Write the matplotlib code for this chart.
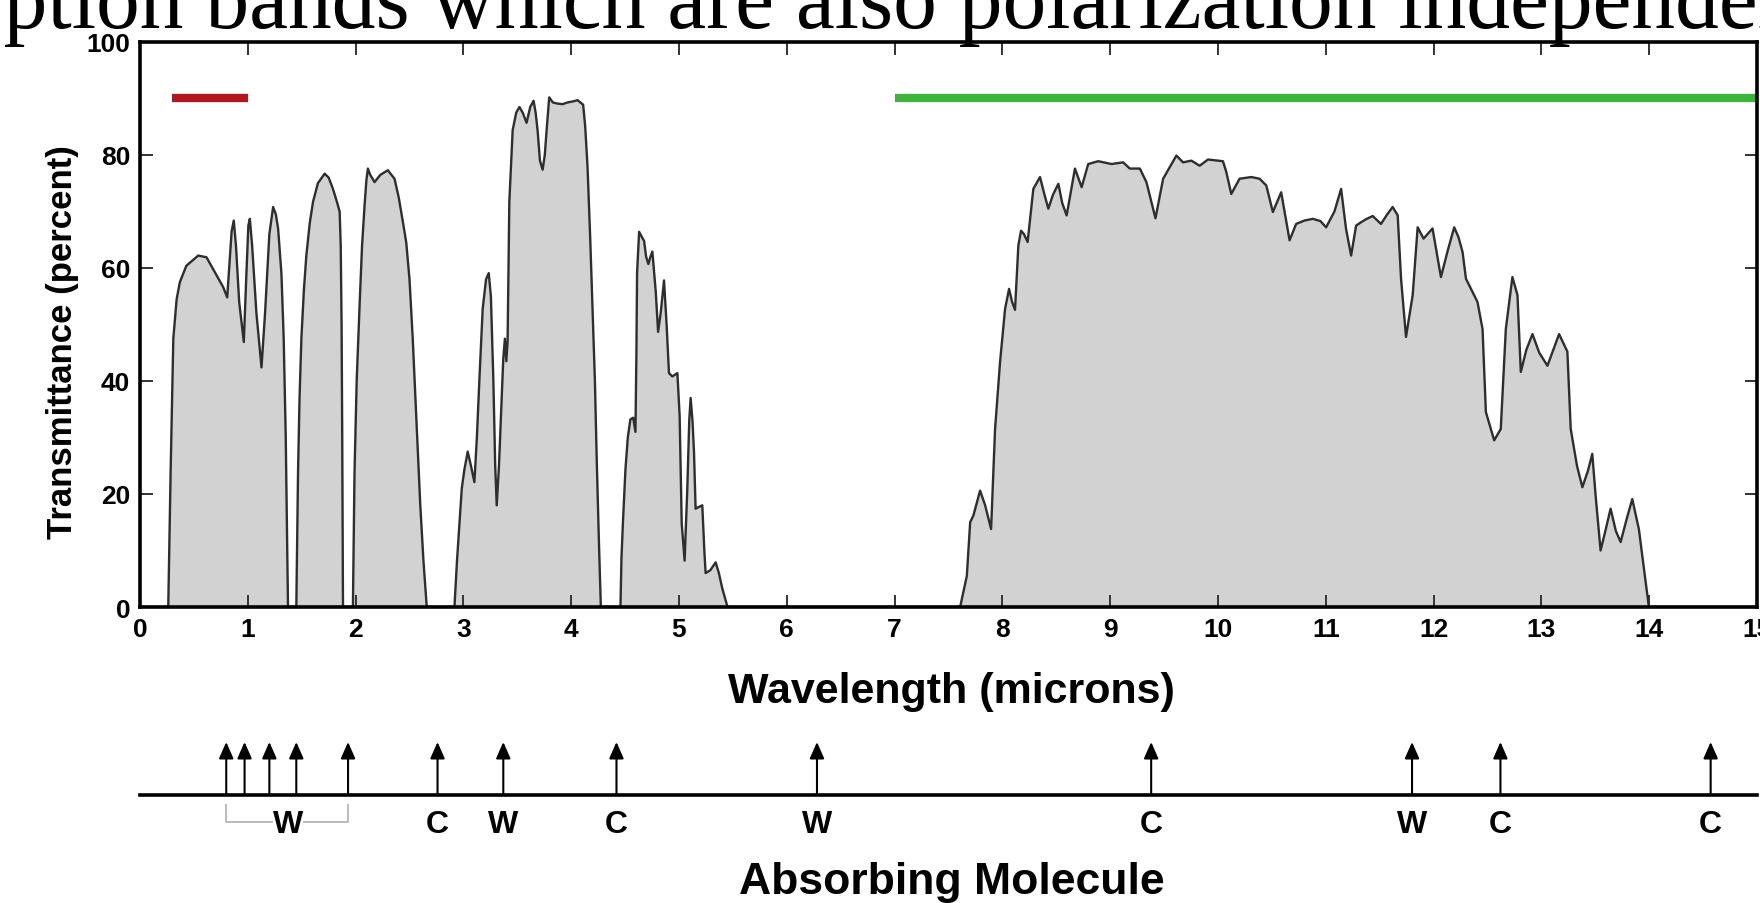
import matplotlib
matplotlib.use('Agg')
import matplotlib.pyplot as plt
import matplotlib.transforms as mtransforms
from matplotlib.lines import Line2D

# transmittance windows (microns, percent)
wavelength = [
    0.0,
    # window 1
    0.262, 0.284, 0.309, 0.34, 0.37, 0.43, 0.54, 0.617, 0.71, 0.772, 0.809, 0.85, 0.870,
    0.89, 0.92, 0.963, 0.985, 1.005, 1.019, 1.04, 1.08, 1.127, 1.16, 1.20, 1.235, 1.26,
    1.281, 1.312, 1.333, 1.352, 1.373,
    # window 2
    1.45, 1.466, 1.48, 1.497, 1.52, 1.543, 1.575, 1.605, 1.65, 1.713, 1.75, 1.79, 1.83,
    1.852, 1.862, 1.870, 1.876, 1.883,
    # window 3
    1.975, 1.99, 2.01, 2.037, 2.06, 2.083, 2.10, 2.114, 2.135, 2.176, 2.23, 2.299, 2.361,
    2.40, 2.44, 2.47, 2.50, 2.53, 2.56, 2.60, 2.63, 2.66,
    # window 4
    2.917, 2.94, 2.963, 2.985, 3.009, 3.040, 3.07, 3.102, 3.125, 3.148, 3.179, 3.21, 3.235,
    3.255, 3.278, 3.295, 3.309, 3.33, 3.349, 3.37, 3.385, 3.398, 3.41, 3.426, 3.457, 3.49,
    3.52, 3.55, 3.586, 3.62, 3.651, 3.67, 3.688, 3.71, 3.735, 3.755, 3.772, 3.796, 3.83,
    3.873, 3.92, 3.966, 4.02, 4.059, 4.111, 4.13, 4.151, 4.175, 4.198, 4.22, 4.235, 4.255,
    4.275,
    # window 5
    4.457, 4.466, 4.48, 4.503, 4.525, 4.549, 4.575, 4.596, 4.605, 4.611, 4.63, 4.655, 4.676,
    4.695, 4.716, 4.735, 4.753, 4.77, 4.784, 4.806, 4.83, 4.861, 4.885, 4.907, 4.938, 4.985,
    5.006, 5.025, 5.052, 5.077, 5.095, 5.108, 5.125, 5.139, 5.154, 5.185, 5.216, 5.235,
    5.247, 5.29, 5.34, 5.37, 5.40, 5.45,
    # window 6
    7.608, 7.67, 7.701, 7.731, 7.793, 7.84, 7.895, 7.932, 7.978, 8.025, 8.062, 8.09, 8.117,
    8.148, 8.173, 8.20, 8.234, 8.287, 8.349, 8.39, 8.426, 8.47, 8.519, 8.555, 8.596, 8.64,
    8.673, 8.735, 8.796, 8.889, 9.012, 9.12, 9.182, 9.275, 9.336, 9.42, 9.491, 9.614, 9.676,
    9.753, 9.83, 9.907, 10.046, 10.077, 10.123, 10.2, 10.309, 10.386, 10.448, 10.509,
    10.586, 10.664, 10.725, 10.802, 10.88, 10.95, 11.003, 11.08, 11.142, 11.188, 11.235,
    11.281, 11.327, 11.38, 11.435, 11.512, 11.57, 11.62, 11.667, 11.698, 11.744, 11.806,
    11.852, 11.907, 11.99, 12.068, 12.13, 12.191, 12.23, 12.269, 12.3, 12.407, 12.454,
    12.485, 12.562, 12.623, 12.67, 12.731, 12.778, 12.809, 12.86, 12.917, 12.98, 13.056,
    13.11, 13.164, 13.241, 13.272, 13.33, 13.38, 13.43, 13.472, 13.503, 13.549, 13.6,
    13.642, 13.69, 13.735, 13.79, 13.843, 13.904, 13.997,
    15.0,
]
transmittance = [
    0,
    # window 1
    0, 23.8, 47.5, 54.5, 57.5, 60.4, 62.2, 61.9, 58.7, 56.6, 54.8, 66.5, 68.4,
    64, 54, 46.9, 58, 67.5, 68.7, 64, 52, 42.4, 52, 66, 70.8, 69.5,
    67, 59, 47.5, 30, 0,
    # window 2
    0, 23.8, 37, 47.5, 56, 62.2, 68, 71.7, 75, 76.7, 76, 74, 71.5,
    70, 64, 50, 30, 0,
    # window 3
    0, 23.8, 40, 53.4, 64, 71, 75.5, 77.6, 76.5, 75.2, 76.5, 77.3, 75.8,
    72.5, 68, 64.5, 58, 47.5, 35, 18, 8, 0,
    # window 4
    0, 8, 14.8, 21, 24.3, 27.5, 25, 22.1, 30, 40.1, 52.8, 58, 59.1,
    55, 40.1, 25, 18.0, 25, 33.8, 44, 47.5, 43.5, 47, 71.7, 84.4, 87.5,
    88.5, 87.5, 85.7, 88.5, 89.6, 87.5, 84.4, 79, 77.4, 80, 84.4, 90.2, 89.3,
    89.1, 89.0, 89.3, 89.5, 89.7, 88.9, 85, 78.1, 66, 52.8, 40, 27.5, 13,
    0,
    # window 5
    0, 8.5, 15, 24.3, 30, 33.2, 33.5, 31.0, 45, 59.1, 66.4, 65.5, 64.8,
    62, 60.7, 62, 62.9, 59, 55.9, 48.7, 52, 57.8, 50, 41.4, 40.8, 41.4,
    33.8, 14.8, 8.2, 20.9, 33, 37.0, 33, 27.5, 17.4, 17.7, 18.0, 10,
    6.0, 6.5, 7.9, 6, 3.4, 0,
    # window 6
    0, 5.5, 15.0, 16.2, 20.6, 18, 13.8, 31.5, 43.3, 52.8, 56.3, 54, 52.6,
    64.0, 66.6, 66, 64.6, 74.0, 76.1, 73, 70.5, 73, 74.9, 71.5, 69.3, 74,
    77.6, 74.3, 78.4, 78.9, 78.4, 78.7, 77.6, 77.6, 75.2, 68.8, 75.8, 79.9, 78.7,
    79.0, 78.1, 79.2, 78.9, 77.0, 73.1, 75.8, 76.1, 75.8, 74.6, 69.9,
    73.4, 64.9, 67.8, 68.4, 68.7, 68.3, 67.2, 70, 74.0, 66.9, 62.2,
    67.5, 68.1, 68.7, 69.2, 67.8, 69.5, 70.8, 69.3, 58.1, 47.8, 55.2,
    67.2, 65.2, 67.0, 58.4, 63, 67.2, 65.5, 62.8, 58.1, 54.0, 49.2,
    34.5, 29.5, 31.5, 49.2, 58.4, 55.2, 41.6, 45.5, 48.3, 45, 42.7,
    45.5, 48.3, 45.2, 31.5, 25, 21.2, 24, 27.1, 19.7, 10.0, 14,
    17.4, 13.5, 11.5, 15.5, 19.1, 13.8, 0,
    0,
]

# bars at the top of the plot (microns)
red_band = [0.3, 1.0]
green_band = [7.0, 15.0]
band_level = 90

# absorbing molecules (W = water vapour, C = carbon dioxide)
absorb_wl = [0.80, 0.97, 1.20, 1.45, 1.93, 2.76, 3.37, 4.42, 6.28, 9.38, 11.80, 12.62, 14.57]
label_wl = [1.37, 2.76, 3.37, 4.42, 6.28, 9.38, 11.80, 12.62, 14.57]
label_txt = ['W', 'C', 'W', 'C', 'W', 'C', 'W', 'C', 'C']

xticks = list(range(0, 16))
yticks = [0, 20, 40, 60, 80, 100]

W, H = 1760, 904


def fy(px):
    # figure pixel row -> figure fraction
    return 1 - px / H


def plot():
    plt.rcParams['font.family'] = ['Liberation Sans', 'DejaVu Sans']
    fig = plt.figure(figsize=(W / 100, H / 100), dpi=100)
    ax = fig.add_axes([140 / W, fy(608), (1757 - 140) / W, (608 - 43) / H])

    ax.fill_between(wavelength, transmittance, 0, color='#d2d2d2', lw=0)
    ax.plot(wavelength, transmittance, color='#2e2e2e', lw=1.7)
    ax.plot(red_band, [band_level] * 2, color='#b3161c', lw=6, solid_capstyle='butt')
    ax.plot(green_band, [band_level] * 2, color='#3db53a', lw=6, solid_capstyle='butt',
            clip_on=False)

    ax.set_xlim(0, 15)
    ax.set_ylim(0, 100)
    ax.set_xticks(xticks)
    ax.set_xticklabels([str(v) for v in xticks], fontsize=19, fontweight='bold')
    ax.set_yticks(yticks)
    ax.set_yticklabels([str(v) for v in yticks], fontsize=19, fontweight='bold')
    ax.tick_params(direction='in', length=9, width=1.4, color='#333333',
                   top=True, right=True, pad=7)
    for s in ax.spines.values():
        s.set_linewidth(2.6)

    ax.set_xlabel('Wavelength (microns)', fontsize=31, fontweight='bold')
    ax.xaxis.set_label_coords(0.502, (608 - 692) / (608 - 43))
    ax.xaxis.label.set_va('center')
    ax.set_ylabel('Transmittance (percent)', fontsize=25, fontweight='bold')
    ax.yaxis.set_label_coords(-0.048, 0.471)
    ax.yaxis.label.set_va('center')

    # absorbing molecule strip below the axis
    trans = mtransforms.blended_transform_factory(ax.transData, fig.transFigure)
    fig.add_artist(Line2D([0, 15], [fy(796)] * 2, transform=trans, color='black', lw=2.6))
    for x in absorb_wl:
        ax.annotate('', xy=(x, fy(743)), xycoords=trans, xytext=(x, fy(796)),
                    textcoords=trans, annotation_clip=False,
                    arrowprops=dict(arrowstyle='-|>,head_length=0.5,head_width=0.22',
                                    mutation_scale=20, lw=1.5, color='black',
                                    shrinkA=0, shrinkB=0))
    for x, lab in zip(label_wl, label_txt):
        ax.text(x, fy(825), lab, transform=trans, ha='center', va='center',
                fontsize=23, fontweight='bold', clip_on=False)
    bracket = dict(transform=trans, color='#b4b4b4', lw=1.3)
    fig.add_artist(Line2D([absorb_wl[0], absorb_wl[0], 1.22], [fy(806), fy(823), fy(823)], **bracket))
    fig.add_artist(Line2D([1.52, absorb_wl[4], absorb_wl[4]], [fy(823), fy(823), fy(806)], **bracket))
    fig.text(952 / W, fy(883), 'Absorbing Molecule', ha='center', va='center',
             fontsize=32, fontweight='bold')

    # caption text cut off at the top of the picture
    hidden, shown = 'absor', 'ption bands which are also polarization independe'
    probe = fig.text(0, 0, shown, fontsize=60, family='Liberation Serif')
    probe2 = fig.text(0, 0, hidden, fontsize=60, family='Liberation Serif')
    fig.canvas.draw()
    r = fig.canvas.get_renderer()
    size = 60 * 1756 / probe.get_window_extent(r).width
    w_hidden = probe2.get_window_extent(r).width * size / 60
    probe.remove()
    probe2.remove()
    fig.text((4 - w_hidden) / W, fy(28), hidden + shown + 'nt', fontsize=size,
             family='Liberation Serif', va='baseline', ha='left')

    fig.savefig('out.png', dpi=100)


def main():
    plot()


if __name__ == '__main__':
    main()
